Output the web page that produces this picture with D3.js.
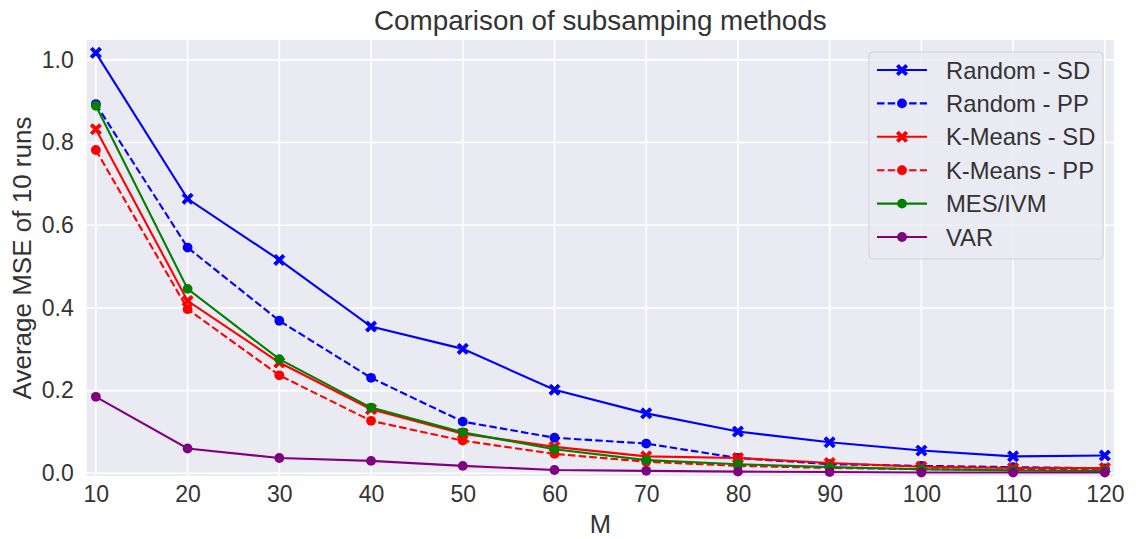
<!DOCTYPE html>
<html>
<head>
<meta charset="utf-8">
<script src="https://cdn.jsdelivr.net/npm/d3@7"></script>
<style>
  html, body { margin: 0; padding: 0; background: #ffffff; }
  svg { display: block; }
  text { font-family: "Liberation Sans", Arial, sans-serif; fill: #333333; }
</style>
</head>
<body>
<svg id="chart" width="1136" height="539"></svg>
<script>
// Subsample sizes
const mValues = [10, 20, 30, 40, 50, 60, 70, 80, 90, 100, 110, 120];

// Average MSE over 10 runs per method
const randomSD  = [1.017, 0.664, 0.516, 0.355, 0.301, 0.202, 0.145, 0.101, 0.075, 0.055, 0.041, 0.043];
const randomPP  = [0.893, 0.546, 0.369, 0.231, 0.125, 0.086, 0.072, 0.037, 0.022, 0.018, 0.015, 0.012];
const kmeansSD  = [0.832, 0.417, 0.268, 0.155, 0.096, 0.064, 0.041, 0.037, 0.025, 0.016, 0.013, 0.013];
const kmeansPP  = [0.782, 0.397, 0.237, 0.127, 0.079, 0.047, 0.028, 0.018, 0.013, 0.010, 0.008, 0.008];
const mesIvm    = [0.889, 0.446, 0.276, 0.159, 0.099, 0.058, 0.032, 0.022, 0.015, 0.010, 0.007, 0.006];
const varValues = [0.185, 0.060, 0.037, 0.030, 0.018, 0.008, 0.006, 0.004, 0.003, 0.002, 0.002, 0.002];

const xTicks = [10, 20, 30, 40, 50, 60, 70, 80, 90, 100, 110, 120];
const yTicks = [0.0, 0.2, 0.4, 0.6, 0.8, 1.0];

const seriesNames = ["Random - SD", "Random - PP", "K-Means - SD", "K-Means - PP", "MES/IVM", "VAR"];
const seriesValues = [randomSD, randomPP, kmeansSD, kmeansPP, mesIvm, varValues];
const seriesColors = ["#0000ff", "#0000ff", "#ff0000", "#ff0000", "#008000", "#800080"];
const seriesDashed = [false, true, false, true, false, false];
const seriesMarker = ["x", "o", "x", "o", "o", "o"];

const svg = d3.select("#chart");
const plot = { left: 86.7, right: 1114, top: 40, bottom: 476 };

const x = d3.scaleLinear().domain([9, 121]).range([plot.left, plot.right]);
const y = d3.scaleLinear().domain([-0.0065, 1.048]).range([plot.bottom, plot.top]);

// Plot background
svg.append("rect")
  .attr("x", plot.left).attr("y", plot.top)
  .attr("width", plot.right - plot.left).attr("height", plot.bottom - plot.top)
  .attr("fill", "#eaeaf2");

// Grid lines
const grid = svg.append("g");
grid.selectAll(".vg").data(xTicks).join("line")
  .attr("x1", d => x(d)).attr("x2", d => x(d))
  .attr("y1", plot.top).attr("y2", plot.bottom)
  .attr("stroke", "#ffffff").attr("stroke-width", 1.6);
grid.selectAll(".hg").data(yTicks).join("line")
  .attr("x1", plot.left).attr("x2", plot.right)
  .attr("y1", d => y(d)).attr("y2", d => y(d))
  .attr("stroke", "#ffffff").attr("stroke-width", 1.6);

// Axes (labels only, seaborn style without tick marks)
const xAxis = svg.append("g")
  .attr("transform", `translate(0,${plot.bottom})`)
  .call(d3.axisBottom(x).tickValues(xTicks).tickSize(0).tickPadding(10).tickFormat(d3.format("d")));
xAxis.select(".domain").remove();
xAxis.selectAll("text").style("font-size", "23px").attr("fill", "#333333");

const yAxis = svg.append("g")
  .attr("transform", `translate(${plot.left},0)`)
  .call(d3.axisLeft(y).tickValues(yTicks).tickSize(0).tickPadding(13).tickFormat(d3.format(".1f")));
yAxis.select(".domain").remove();
yAxis.selectAll("text").style("font-size", "23px").attr("fill", "#333333");

// Titles
svg.append("text")
  .attr("x", (plot.left + plot.right) / 2).attr("y", 30)
  .attr("text-anchor", "middle").style("font-size", "27.8px")
  .text("Comparison of subsamping methods");
svg.append("text")
  .attr("x", (plot.left + plot.right) / 2).attr("y", 533)
  .attr("text-anchor", "middle").style("font-size", "25.5px")
  .text("M");
svg.append("text")
  .attr("transform", `translate(31,${(plot.top + plot.bottom) / 2}) rotate(-90)`)
  .attr("text-anchor", "middle").style("font-size", "26px")
  .text("Average MSE of 10 runs");

// Filled "X" marker path centred at origin
function xMarkerPath(s) {
  const a = s * 0.5, b = s * 0.2;
  const pts = [
    [0, -b], [a - b, -a], [a, -a + b], [b, 0], [a, a - b], [a - b, a],
    [0, b], [-a + b, a], [-a, a - b], [-b, 0], [-a, -a + b], [-a + b, -a]
  ];
  return "M" + pts.map(p => p.join(",")).join("L") + "Z";
}

function drawMarker(g, type, cx, cy, color) {
  if (type === "x") {
    g.append("path").attr("d", xMarkerPath(11))
      .attr("transform", `translate(${cx},${cy})`)
      .attr("fill", color).attr("stroke", color).attr("stroke-width", 1);
  } else {
    g.append("circle").attr("cx", cx).attr("cy", cy).attr("r", 4.9).attr("fill", color);
  }
}

const line = d3.line().x((d, i) => x(mValues[i])).y(d => y(d));

const series = svg.append("g");
seriesValues.forEach((vals, k) => {
  const g = series.append("g");
  g.append("path").datum(vals)
    .attr("d", line)
    .attr("fill", "none")
    .attr("stroke", seriesColors[k])
    .attr("stroke-width", 2.1)
    .attr("stroke-dasharray", seriesDashed[k] ? "7.5,3.2" : null);
  vals.forEach((v, i) => drawMarker(g, seriesMarker[k], x(mValues[i]), y(v), seriesColors[k]));
});

// Legend
const legend = svg.append("g");
legend.append("rect")
  .attr("x", 869).attr("y", 52).attr("width", 234).attr("height", 207)
  .attr("rx", 4).attr("fill", "#eaeaf2").attr("fill-opacity", 0.8)
  .attr("stroke", "#d0d0d8").attr("stroke-width", 1);
seriesNames.forEach((name, k) => {
  const cy = 70 + k * 33.4;
  legend.append("line")
    .attr("x1", 877).attr("x2", 927).attr("y1", cy).attr("y2", cy)
    .attr("stroke", seriesColors[k]).attr("stroke-width", 2.1)
    .attr("stroke-dasharray", seriesDashed[k] ? "7.5,3.2" : null);
  drawMarker(legend, seriesMarker[k], 902, cy, seriesColors[k]);
  legend.append("text")
    .attr("x", 946).attr("y", cy).attr("dy", "0.36em")
    .style("font-size", "23.8px").text(name);
});
</script>
</body>
</html>
